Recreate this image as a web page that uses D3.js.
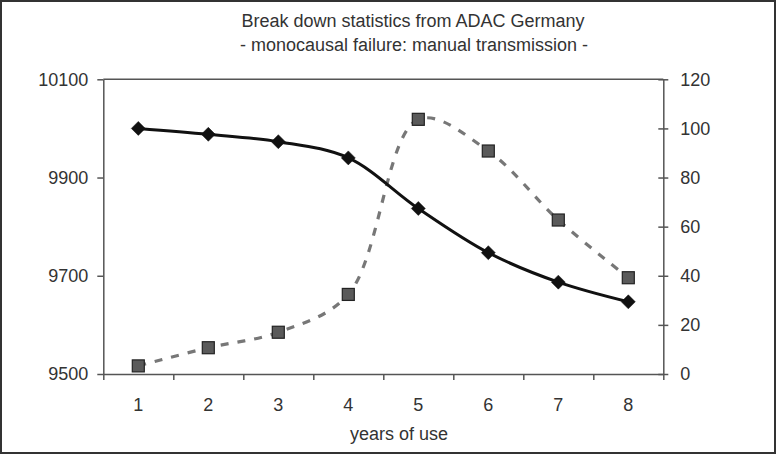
<!DOCTYPE html>
<html>
<head>
<meta charset="utf-8">
<script src="https://cdn.jsdelivr.net/npm/d3@7"></script>
<style>
  html, body { margin: 0; padding: 0; background: #fff; }
  svg { display: block; }
  text { font-family: Arial, "Liberation Sans", sans-serif; fill: #333; }
</style>
</head>
<body>
<svg id="chart" width="777" height="455"></svg>
<script>
// ---- data ----
const years = [1, 2, 3, 4, 5, 6, 7, 8];
const vehiclesLeft = [10000, 9988, 9973, 9940, 9837, 9747, 9687, 9647];
const failuresRight = [3.3, 10.7, 17.0, 32.4, 103.7, 90.8, 62.7, 39.2];
const leftTicks = [9500, 9700, 9900, 10100];
const rightTicks = [0, 20, 40, 60, 80, 100, 120];
const titleLines = ["Break down statistics from ADAC Germany", "- monocausal failure: manual transmission -"];
const xTitle = "years of use";

// ---- layout ----
const W = 777, H = 455;
const plot = { left: 103.3, right: 663.3, top: 79.3, bottom: 374 };

const svg = d3.select("#chart");

// outer frame
svg.append("rect")
  .attr("x", 1).attr("y", 1).attr("width", 774).attr("height", 452)
  .attr("fill", "none").attr("stroke", "#333").attr("stroke-width", 2);

// scales
const x = d3.scaleBand().domain(years).range([plot.left, plot.right]).padding(0);
const xEdge = d3.scaleLinear().domain([0, years.length]).range([plot.left, plot.right]);
const yL = d3.scaleLinear().domain([9500, 10100]).range([plot.bottom, plot.top]);
const yR = d3.scaleLinear().domain([0, 120]).range([plot.bottom, plot.top]);

const axisColor = "#555";

// top line at max
svg.append("line")
  .attr("x1", plot.left).attr("x2", plot.right)
  .attr("y1", yL(10100)).attr("y2", yL(10100))
  .attr("stroke", axisColor).attr("stroke-width", 1.5);

// left axis
const gL = svg.append("g").attr("transform", `translate(${plot.left},0)`)
  .call(d3.axisLeft(yL).tickValues(leftTicks).tickSize(6).tickSizeOuter(0).tickPadding(9).tickFormat(d3.format("d")));
// right axis
const gR = svg.append("g").attr("transform", `translate(${plot.right},0)`)
  .call(d3.axisRight(yR).tickValues(rightTicks).tickSize(5).tickSizeOuter(0).tickPadding(12));
gR.selectAll(".tick line").attr("x1", -5);
// bottom axis: ticks at category boundaries
const gB = svg.append("g").attr("transform", `translate(0,${plot.bottom})`)
  .call(d3.axisBottom(xEdge).tickValues(d3.range(0, years.length + 1)).tickSize(6).tickSizeOuter(0).tickFormat(""));
// bottom labels at category centers
const gBL = svg.append("g").attr("transform", `translate(0,${plot.bottom})`)
  .call(d3.axisBottom(x).tickSize(0).tickSizeOuter(0).tickPadding(24));
gBL.select(".domain").remove();

[gL, gR, gB].forEach(g => {
  g.select(".domain").attr("stroke", axisColor).attr("stroke-width", 1.5);
  g.selectAll(".tick line").attr("stroke", axisColor).attr("stroke-width", 1.5);
});
[gL, gR, gBL].forEach(g => {
  g.selectAll("text").attr("font-size", 18).attr("fill", "#333")
    .attr("font-family", "Arial, 'Liberation Sans', sans-serif");
});

// titles
svg.append("text").attr("x", 413).attr("y", 27).attr("text-anchor", "middle")
  .attr("font-size", 18).text(titleLines[0]);
svg.append("text").attr("x", 414).attr("y", 51).attr("text-anchor", "middle")
  .attr("font-size", 18).text(titleLines[1]);
svg.append("text").attr("x", 399).attr("y", 440).attr("text-anchor", "middle")
  .attr("font-size", 18).text(xTitle);

const cx = d => x(d) + x.bandwidth() / 2;

// dashed smoothed series (right axis)
const lineR = d3.line().x((d, i) => cx(years[i])).y(d => yR(d)).curve(d3.curveCatmullRom.alpha(0.5));
svg.append("path").datum(failuresRight)
  .attr("d", lineR).attr("fill", "none")
  .attr("stroke", "#777").attr("stroke-width", 3.2).attr("stroke-dasharray", "8,9");

// solid smoothed series (left axis)
const lineL = d3.line().x((d, i) => cx(years[i])).y(d => yL(d)).curve(d3.curveCatmullRom.alpha(0.5));
svg.append("path").datum(vehiclesLeft)
  .attr("d", lineL).attr("fill", "none")
  .attr("stroke", "#111").attr("stroke-width", 3);

// square markers
const sq = 12;
svg.append("g").selectAll("rect").data(failuresRight).join("rect")
  .attr("x", (d, i) => cx(years[i]) - sq / 2)
  .attr("y", d => yR(d) - sq / 2)
  .attr("width", sq).attr("height", sq)
  .attr("fill", "#5a5a5a").attr("stroke", "#222").attr("stroke-width", 1.2);

// diamond markers
const dm = 7;
svg.append("g").selectAll("path").data(vehiclesLeft).join("path")
  .attr("d", (d, i) => {
    const px = cx(years[i]), py = yL(d);
    return `M${px},${py - dm}L${px + dm},${py}L${px},${py + dm}L${px - dm},${py}Z`;
  })
  .attr("fill", "#111").attr("stroke", "#111").attr("stroke-width", 0.5);
</script>
</body>
</html>
